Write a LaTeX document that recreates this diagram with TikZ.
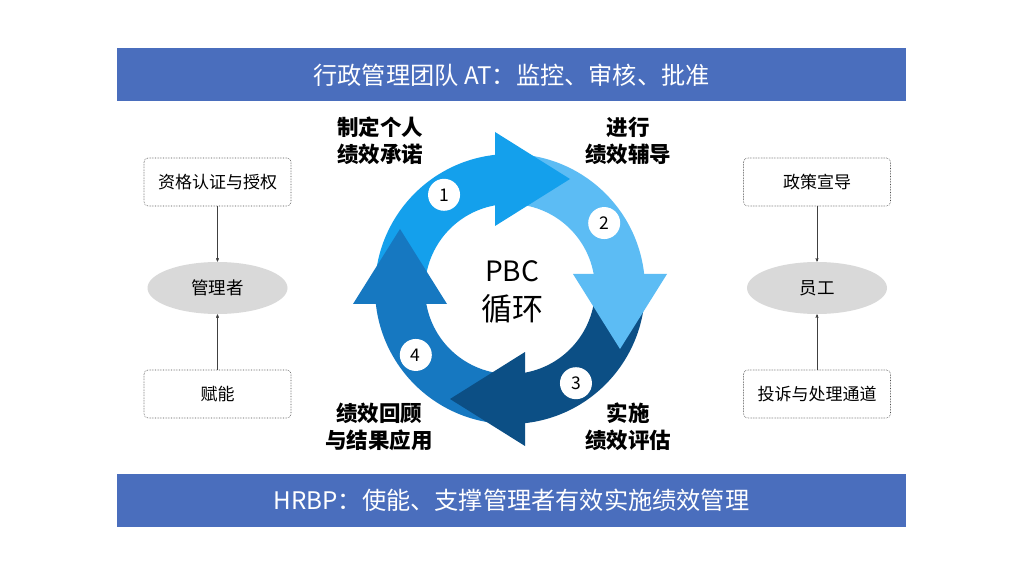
\documentclass[tikz,border=0pt]{standalone}
\usepackage{fontspec}
\setmainfont{Noto Sans CJK SC}
\usepackage{tikz}
\usetikzlibrary{arrows,shapes.geometric}
\usepackage{color}

\definecolor{bannerblue}{HTML}{4A6EBD}
\definecolor{stepone}{HTML}{14A0EC}
\definecolor{steptwo}{HTML}{5CBCF4}
\definecolor{stepthree}{HTML}{0C4F85}
\definecolor{stepfour}{HTML}{1678C1}
\definecolor{ovalgray}{HTML}{D9D9D9}

\begin{document}
\begin{tikzpicture}[x=1pt,y=1pt,>=stealth',semithick]
\tikzstyle{banner}=[fill=bannerblue,text=white,inner sep=0,minimum width=789,
                    minimum height=53,font=\fontsize{24.2}{24.2}\selectfont]
\tikzstyle{tagbox}=[draw=black!70,densely dotted,rounded corners=4,minimum width=147,
                    minimum height=48,font=\fontsize{17}{17}\selectfont]
\tikzstyle{role}=[ellipse,fill=ovalgray,inner sep=0,minimum width=140,minimum height=52,
                  font=\fontsize{17.5}{17.5}\selectfont]
\tikzstyle{link}=[->,thin,draw=black!75]
\tikzstyle{stage}=[align=center,font=\bfseries\fontsize{21.5}{27}\selectfont]
\tikzstyle{num}=[circle,fill=white,inner sep=0,minimum size=32,
                 font=\fontsize{17.5}{17.5}\selectfont]
\useasboundingbox[fill=white] (0,0) rectangle (1024,576);

% banners
\node[banner] (at) at (511.5,501) {行政管理团队 AT：监控、审核、批准};
\node[banner] (hrbp) at (511.5,75.5) {HRBP：使能、支撑管理者有效实施绩效管理};

% ring bodies
\coordinate (c) at (510,287);
\fill[stepone,shift={(c)},rotate=90] (95:135) arc[start angle=95,end angle=6.4,radius=135]
  -- (10.2:85) arc[start angle=10.2,end angle=95,radius=85] -- cycle;
\fill[steptwo,shift={(c)},rotate=0] (95:135) arc[start angle=95,end angle=6.4,radius=135]
  -- (10.2:85) arc[start angle=10.2,end angle=95,radius=85] -- cycle;
\fill[stepthree,shift={(c)},rotate=-90] (95:135) arc[start angle=95,end angle=6.4,radius=135]
  -- (10.2:85) arc[start angle=10.2,end angle=95,radius=85] -- cycle;
\fill[stepfour,shift={(c)},rotate=180] (95:135) arc[start angle=95,end angle=6.4,radius=135]
  -- (10.2:85) arc[start angle=10.2,end angle=95,radius=85] -- cycle;
% ring heads
\fill[stepone,shift={(c)},rotate=90] (63,15) -- (157,15) -- (110,-60) -- cycle;
\fill[steptwo,shift={(c)},rotate=0] (63,15) -- (157,15) -- (110,-60) -- cycle;
\fill[stepthree,shift={(c)},rotate=-90] (63,15) -- (157,15) -- (110,-60) -- cycle;
\fill[stepfour,shift={(c)},rotate=180] (63,15) -- (157,15) -- (110,-60) -- cycle;

\node[num] (n1) at ([shift={(125:115)}]c) {1};
\node[num] (n2) at ([shift={(35:115)}]c) {2};
\node[num] (n3) at ([shift={(-55:115)}]c) {3};
\node[num] (n4) at ([shift={(-145:115)}]c) {4};

\node[font=\fontsize{28}{28}\selectfont] (pbc) at (512,305) {PBC};
\node[font=\fontsize{31}{31}\selectfont] (loop) at (512,267) {循环};

\node[stage] (s1) at (380,435) {制定个人\\绩效承诺};
\node[stage] (s2) at (628,435) {进行\\绩效辅导};
\node[stage] (s3) at (628,149) {实施\\绩效评估};
\node[stage] (s4) at (379,149) {绩效回顾\\与结果应用};

% managers
\node[tagbox] (cert) at (217.5,394) {资格认证与授权};
\node[role] (mgr) at (217.5,288) {管理者};
\node[tagbox] (enable) at (217.5,182) {赋能};
\draw[link] (cert) -- (mgr);
\draw[link] (enable) -- (mgr);

% staff
\node[tagbox] (policy) at (817,394) {政策宣导};
\node[role] (staff) at (817,288) {员工};
\node[tagbox] (appeal) at (817,182) {投诉与处理通道};
\draw[link] (policy) -- (staff);
\draw[link] (appeal) -- (staff);
\end{tikzpicture}
\end{document}
